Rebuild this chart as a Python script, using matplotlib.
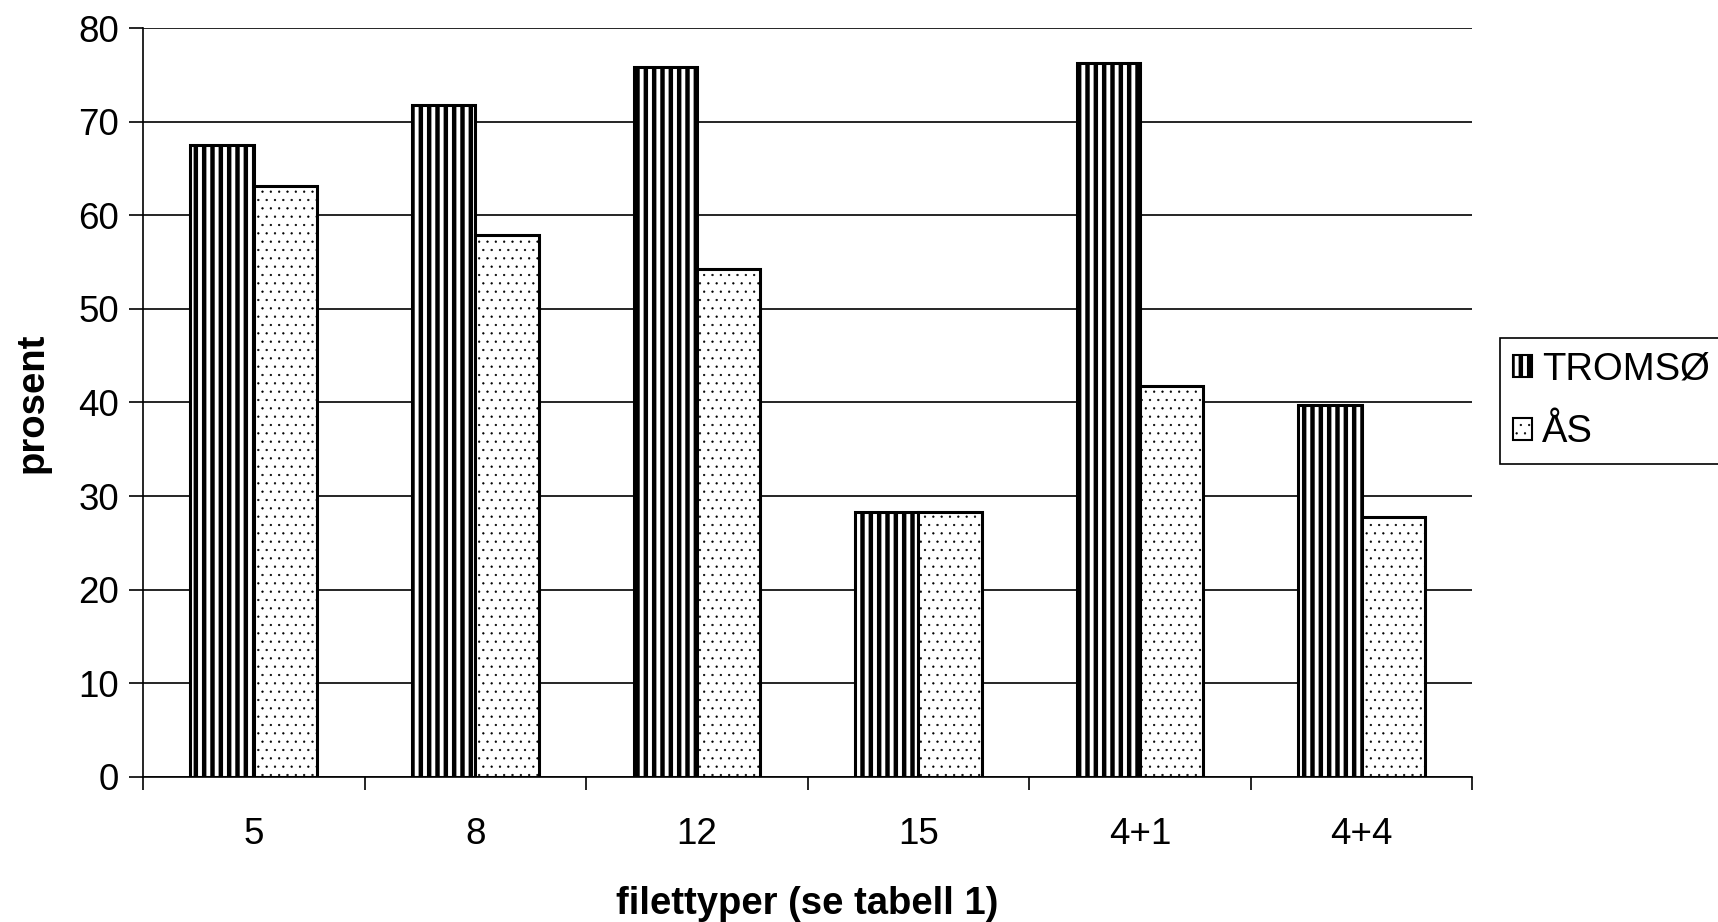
import numpy as np
import matplotlib.pyplot as plt
import matplotlib as mpl

plt.rcParams['font.family'] = ['Liberation Sans', 'DejaVu Sans']
mpl.rcParams['hatch.color'] = 'black'

kategorier = ['5', '8', '12', '15', '4+1', '4+4']
tromso = [67.5, 71.8, 75.8, 28.3, 76.3, 39.7]
aas = [63.1, 57.9, 54.3, 28.3, 41.8, 27.8]
serier = ['TROMSØ', 'ÅS']


def hatch_lw(patches, lw):
    for p in patches:
        if hasattr(p, 'set_hatch_linewidth'):
            p.set_hatch_linewidth(lw)
        else:
            p._hatch_linewidth = lw


fig = plt.figure(figsize=(17.18, 9.22), dpi=100)
ax = fig.add_axes([0.0832, 0.1573, 0.857 - 0.0832, 0.9696 - 0.1573])

x = np.arange(len(kategorier))
w = 1 / 3.5

b1 = ax.bar(x - w / 2, tromso, width=w, facecolor='white', edgecolor='black',
            linewidth=2.2, hatch='||', label=serier[0], zorder=3)
b2 = ax.bar(x + w / 2, aas, width=w, facecolor='white', edgecolor='black',
            linewidth=2.2, hatch='..', label=serier[1], zorder=3)
hatch_lw(b1, 3.2)
hatch_lw(b2, 0.4)

ax.set_xlim(-0.5, len(kategorier) - 0.5)
ax.set_ylim(0, 80)
ax.set_yticks(np.arange(0, 81, 10))
ax.yaxis.grid(True, color='black', linewidth=1.2)
ax.set_axisbelow(True)

# ticks between categories, labels at category centres
ax.set_xticks(np.arange(-0.5, len(kategorier)), minor=False)
ax.set_xticklabels([])
ax.set_xticks(x, minor=True)
ax.set_xticklabels(kategorier, minor=True)
ax.tick_params(axis='x', which='major', direction='out', length=9, width=1.2)
ax.tick_params(axis='x', which='minor', length=0, pad=29, labelsize=26.5)
ax.tick_params(axis='y', direction='out', length=10, width=1.2, labelsize=26.5, pad=7)

for s in ['top', 'right']:
    ax.spines[s].set_visible(False)
for s in ['left', 'bottom']:
    ax.spines[s].set_linewidth(1.2)

ax.set_xlabel('filettyper (se tabell 1)', fontsize=27.5, fontweight='bold', labelpad=24)
ax.set_ylabel('prosent', fontsize=27.5, fontweight='bold', labelpad=20)

leg = fig.legend(loc='upper left', bbox_to_anchor=(0.873, 0.633), fontsize=27.5,
                 frameon=True, fancybox=False, edgecolor='black', framealpha=1,
                 handlelength=0.5, handleheight=0.5, handletextpad=0.25,
                 borderpad=0.35, labelspacing=0.7, borderaxespad=0)
leg.get_frame().set_linewidth(1.2)
hatch_lw(leg.legend_handles[:1], 3.2)
hatch_lw(leg.legend_handles[1:], 0.4)
for h in leg.legend_handles:
    h.set_linewidth(1.5)

fig.savefig('out.png', dpi=100)
